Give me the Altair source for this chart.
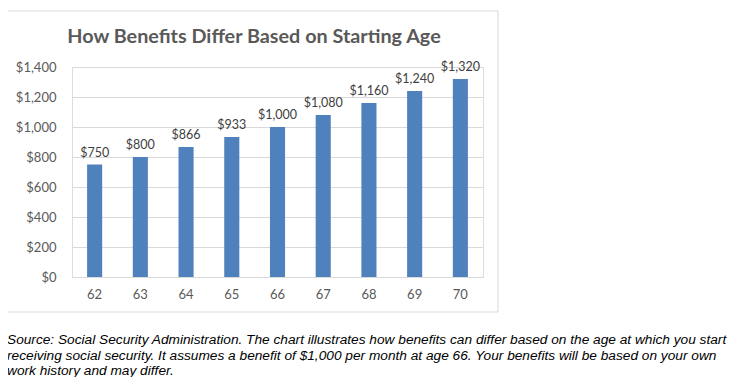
import altair as alt
import pandas as pd

ages = ["62", "63", "64", "65", "66", "67", "68", "69", "70"]
benefits = [750, 800, 866, 933, 1000, 1080, 1160, 1240, 1320]
y_ticks = [0, 200, 400, 600, 800, 1000, 1200, 1400]
title_text = "How Benefits Differ Based on Starting Age"
caption_lines = [
    "Source: Social Security Administration. The chart illustrates how benefits can differ based on the age at which you start",
    "receiving social security. It assumes a benefit of $1,000 per month at age 66. Your benefits will be based on your own",
    "work history and may differ.",
]

df = pd.DataFrame({"age": ages, "benefit": benefits})

W, H = 411, 210
FONT = "Lato"
GRAY = "#595959"

x_enc = alt.X("age:N", sort=ages, scale=alt.Scale(paddingInner=0.67, paddingOuter=0.33),
              axis=alt.Axis(title=None, labelAngle=0, ticks=False, domain=True, domainColor="#d9d9d9",
                            labelPadding=11, labelFont=FONT, labelFontSize=13, labelColor=GRAY, grid=False))
y_enc = alt.Y("benefit:Q", scale=alt.Scale(domain=[0, 1400], nice=False),
              axis=alt.Axis(title=None, values=y_ticks, format="$,.0f", ticks=False, domain=False,
                            labelOverlap=False, labelPadding=16, labelFont=FONT, labelFontSize=13,
                            labelColor=GRAY, gridColor="#d9d9d9", gridWidth=1))

one = "datum.age == '62'"

frame = alt.Chart(df).mark_rect(filled=False, stroke="#d9d9d9", strokeWidth=1).encode(
    x=alt.value(-65), x2=alt.value(426), y=alt.value(-56), y2=alt.value(245)
).transform_filter(one)

bars = alt.Chart(df).mark_bar(color="#4F81BD").encode(x=x_enc, y=y_enc)

labels = alt.Chart(df).mark_text(baseline="bottom", dy=-5, font=FONT, fontSize=12.5, color="#404040").encode(
    x=x_enc, y=y_enc, text=alt.Text("benefit:Q", format="$,.0f")
)

title = alt.Chart(df).mark_text(
    align="center", baseline="middle", font=FONT, fontSize=19.8, fontWeight="bold", color=GRAY
).encode(x=alt.value(182), y=alt.value(-30), text=alt.value(title_text)).transform_filter(one)

caption = alt.Chart(df).mark_text(
    align="left", baseline="top", font="Liberation Sans", fontStyle="italic", fontSize=13.7,
    color="#000000", lineBreak="\n", lineHeight=15.5
).encode(
    x=alt.value(-65), y=alt.value(266), text=alt.value("\n".join(caption_lines))
).transform_filter(one)

chart = alt.layer(frame, bars, labels, title, caption).properties(
    width=W, height=H,
    autosize=alt.AutoSizeParams(type="none"),
    padding={"left": 64, "top": 59, "right": 257, "bottom": 100},
).configure_view(stroke=None).configure(background="white")

chart.save("out.html", embed_options={"renderer": "svg", "actions": False})
